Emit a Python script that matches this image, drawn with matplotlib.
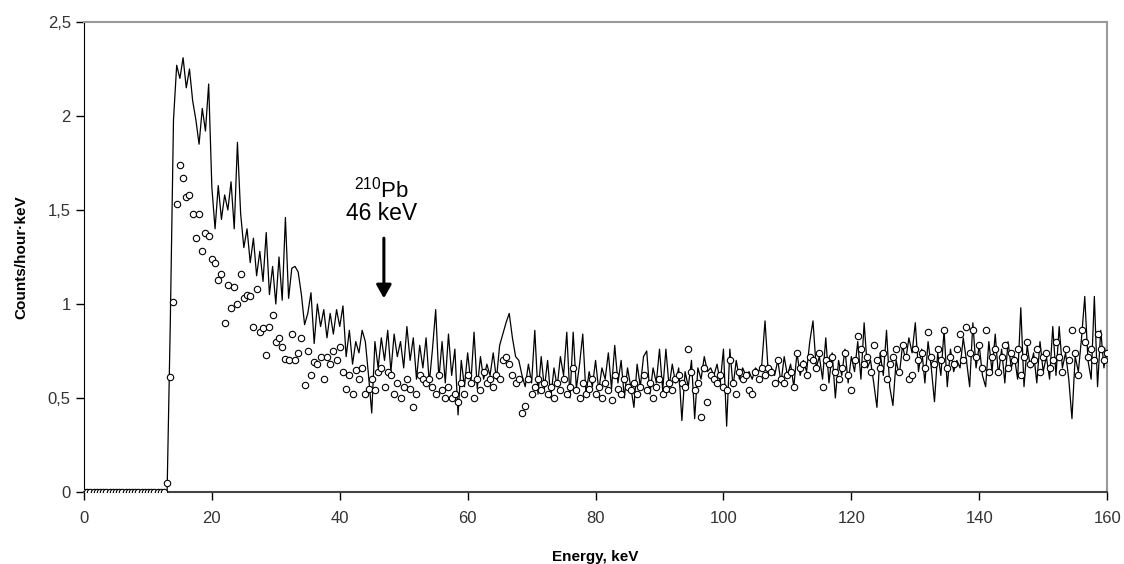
import numpy as np
import matplotlib
matplotlib.use("Agg")
import matplotlib.pyplot as plt
from matplotlib.ticker import FuncFormatter

plt.rcParams['font.family'] = ['Liberation Sans', 'DejaVu Sans']
plt.rcParams['mathtext.fontset'] = 'custom'
plt.rcParams['mathtext.rm'] = 'Liberation Sans'

# energia, passo 0.5 keV da 0 a 160
energia = np.arange(0, 160.01, 0.5)

# spettro (linea)
zeri_linea = [0.0, 0.0, 0.0, 0.0, 0.0, 0.0, 0.0, 0.0, 0.0, 0.0,
              0.0, 0.0, 0.0, 0.0, 0.0, 0.0, 0.0, 0.0, 0.0, 0.0,
              0.0, 0.0, 0.0, 0.0, 0.0, 0.0, 0.0]
linea = [0.90, 1.98, 2.27, 2.20, 2.31, 2.15, 2.25, 2.08, 1.98, 1.85,
         2.04, 1.92, 2.17, 1.62, 1.40, 1.63, 1.45, 1.58, 1.50, 1.65,
         1.40, 1.86, 1.48, 1.30, 1.40, 1.22, 1.35, 1.15, 1.28, 1.12,
         1.38, 1.05, 1.20, 1.00, 1.25, 1.02, 1.46, 1.03, 1.19, 1.20,
         1.17, 1.05, 0.89, 0.95, 1.06, 0.79, 1.00, 0.88, 0.97, 0.82,
         0.95, 0.84, 0.97, 0.88, 0.99, 0.72, 0.86, 0.68, 0.80, 0.74,
         0.86, 0.80, 0.62, 0.42, 0.80, 0.66, 0.82, 0.70, 0.86, 0.64,
         0.84, 0.72, 0.80, 0.66, 0.88, 0.70, 0.82, 0.60, 0.78, 0.66,
         0.82, 0.58, 0.76, 0.97, 0.60, 0.80, 0.58, 0.84, 0.62, 0.76,
         0.41, 0.70, 0.56, 0.74, 0.58, 0.85, 0.55, 0.72, 0.60, 0.68,
         0.62, 0.74, 0.60, 0.78, 0.84, 0.90, 0.95, 0.82, 0.72, 0.70,
         0.62, 0.56, 0.68, 0.58, 0.86, 0.52, 0.72, 0.55, 0.70, 0.50,
         0.66, 0.56, 0.72, 0.62, 0.85, 0.50, 0.85, 0.55, 0.68, 0.84,
         0.52, 0.64, 0.56, 0.70, 0.54, 0.66, 0.60, 0.74, 0.55, 0.78,
         0.58, 0.70, 0.50, 0.66, 0.56, 0.45, 0.68, 0.56, 0.72, 0.75,
         0.52, 0.66, 0.58, 0.76, 0.54, 0.76, 0.56, 0.68, 0.58, 0.66,
         0.38, 0.64, 0.56, 0.70, 0.39, 0.66, 0.60, 0.72, 0.64, 0.66,
         0.62, 0.68, 0.58, 0.76, 0.35, 0.76, 0.56, 0.70, 0.60, 0.66,
         0.62, 0.64, 0.60, 0.66, 0.64, 0.68, 0.91, 0.64, 0.66, 0.62,
         0.70, 0.58, 0.72, 0.62, 0.68, 0.56, 0.74, 0.62, 0.70, 0.64,
         0.80, 0.91, 0.66, 0.72, 0.60, 0.82, 0.58, 0.74, 0.50, 0.70,
         0.62, 0.76, 0.58, 0.72, 0.64, 0.80, 0.60, 0.90, 0.66, 0.70,
         0.58, 0.45, 0.74, 0.62, 0.86, 0.56, 0.46, 0.70, 0.62, 0.78,
         0.70, 0.82, 0.74, 0.90, 0.64, 0.76, 0.58, 0.80, 0.66, 0.48,
         0.74, 0.62, 0.86, 0.56, 0.76, 0.64, 0.70, 0.66, 0.82, 0.70,
         0.56, 0.90, 0.66, 0.78, 0.62, 0.56, 0.80, 0.64, 0.84, 0.62,
         0.76, 0.58, 0.80, 0.66, 0.72, 0.60, 0.98, 0.56, 0.78, 0.66,
         0.74, 0.58, 0.80, 0.64, 0.72, 0.60, 0.88, 0.62, 0.88, 0.66,
         0.74, 0.60, 0.39, 0.72, 0.64, 0.82, 1.04, 0.70, 0.60, 1.04,
         0.56, 0.86, 0.66, 0.80]

# seconda serie (cerchi)
zeri_cerchi = [0.0, 0.0, 0.0, 0.0, 0.0, 0.0, 0.0, 0.0, 0.0, 0.0,
               0.0, 0.0, 0.0, 0.0, 0.0, 0.0, 0.0, 0.0, 0.0, 0.0,
               0.0, 0.0, 0.0, 0.0, 0.0, 0.0, 0.05]
cerchi = [0.61, 1.01, 1.53, 1.74, 1.67, 1.57, 1.58, 1.48, 1.35, 1.48,
          1.28, 1.38, 1.36, 1.24, 1.22, 1.13, 1.16, 0.90, 1.10, 0.98,
          1.09, 1.00, 1.16, 1.03, 1.05, 1.04, 0.88, 1.08, 0.85, 0.87,
          0.73, 0.88, 0.94, 0.80, 0.82, 0.77, 0.71, 0.70, 0.84, 0.70,
          0.74, 0.82, 0.57, 0.75, 0.62, 0.69, 0.68, 0.72, 0.60, 0.72,
          0.68, 0.75, 0.70, 0.77, 0.64, 0.55, 0.62, 0.52, 0.65, 0.60,
          0.66, 0.52, 0.55, 0.60, 0.54, 0.64, 0.66, 0.56, 0.64, 0.62,
          0.52, 0.58, 0.50, 0.56, 0.60, 0.55, 0.45, 0.52, 0.62, 0.60,
          0.58, 0.60, 0.56, 0.52, 0.62, 0.54, 0.50, 0.56, 0.50, 0.52,
          0.48, 0.58, 0.52, 0.62, 0.58, 0.50, 0.60, 0.54, 0.64, 0.58,
          0.60, 0.56, 0.62, 0.60, 0.70, 0.72, 0.68, 0.62, 0.58, 0.60,
          0.42, 0.46, 0.60, 0.52, 0.56, 0.60, 0.54, 0.58, 0.52, 0.56,
          0.50, 0.58, 0.54, 0.60, 0.52, 0.56, 0.66, 0.54, 0.50, 0.58,
          0.52, 0.55, 0.60, 0.52, 0.56, 0.50, 0.58, 0.54, 0.49, 0.62,
          0.55, 0.52, 0.60, 0.56, 0.54, 0.58, 0.52, 0.56, 0.62, 0.54,
          0.58, 0.50, 0.56, 0.60, 0.52, 0.55, 0.58, 0.54, 0.60, 0.62,
          0.58, 0.56, 0.76, 0.64, 0.54, 0.58, 0.40, 0.66, 0.48, 0.62,
          0.60, 0.58, 0.62, 0.56, 0.54, 0.70, 0.58, 0.52, 0.64, 0.60,
          0.62, 0.54, 0.52, 0.64, 0.60, 0.66, 0.62, 0.66, 0.64, 0.58,
          0.70, 0.60, 0.58, 0.62, 0.64, 0.56, 0.74, 0.66, 0.68, 0.62,
          0.72, 0.70, 0.66, 0.74, 0.56, 0.70, 0.68, 0.72, 0.64, 0.60,
          0.66, 0.74, 0.62, 0.54, 0.70, 0.83, 0.76, 0.68, 0.72, 0.64,
          0.78, 0.70, 0.66, 0.74, 0.60, 0.68, 0.72, 0.76, 0.64, 0.78,
          0.72, 0.60, 0.62, 0.76, 0.70, 0.74, 0.66, 0.85, 0.72, 0.68,
          0.76, 0.70, 0.86, 0.66, 0.72, 0.68, 0.76, 0.84, 0.70, 0.88,
          0.74, 0.86, 0.72, 0.78, 0.66, 0.86, 0.64, 0.72, 0.76, 0.64,
          0.72, 0.78, 0.66, 0.74, 0.70, 0.76, 0.62, 0.72, 0.80, 0.68,
          0.70, 0.76, 0.64, 0.72, 0.74, 0.66, 0.70, 0.80, 0.72, 0.64,
          0.76, 0.70, 0.86, 0.74, 0.62, 0.86, 0.80, 0.72, 0.76, 0.70,
          0.84, 0.76, 0.70, 0.74]

y_linea = np.array(zeri_linea + linea)
y_cerchi = np.array(zeri_cerchi + cerchi)
assert len(y_linea) == len(energia), (len(y_linea), len(energia))
assert len(y_cerchi) == len(energia), (len(y_cerchi), len(energia))

fig = plt.figure(figsize=(11.24, 5.64), dpi=100)
ax = fig.add_axes([0.0747, 0.1277, 0.9103, 0.8333])

ax.plot(energia, y_linea, color="black", linewidth=0.9, zorder=2)
ax.plot(energia, y_cerchi, linestyle="none", marker="o", markersize=4.6,
        markerfacecolor="white", markeredgecolor="black", markeredgewidth=0.8, zorder=3)

# freccia 210Pb
ax.annotate("", xy=(46.9, 1.03), xytext=(46.9, 1.35),
            arrowprops=dict(arrowstyle="-|>,head_length=0.8,head_width=0.45",
                            color="black", lw=2.2, shrinkA=0, shrinkB=0))
ax.text(46.5, 1.61, r"$^{210}$Pb", ha="center", va="center", fontsize=16)
ax.text(46.5, 1.48, "46 keV", ha="center", va="center", fontsize=16.5)

ax.set_xlim(0, 160)
ax.set_ylim(0, 2.5)
ax.set_xticks(np.arange(0, 161, 20))
ax.set_yticks([0, 0.5, 1, 1.5, 2, 2.5])
ax.yaxis.set_major_formatter(FuncFormatter(lambda v, p: ("%g" % v).replace(".", ",")))
ax.tick_params(direction="out", length=6, width=1, labelsize=12, labelcolor="#333333")
ax.tick_params(axis="x", pad=8)

for s in ["top", "right"]:
    ax.spines[s].set_color("#999999")
    ax.spines[s].set_linewidth(1.5)
ax.spines["left"].set_color("black")
ax.spines["bottom"].set_color("#444444")
ax.spines["bottom"].set_linewidth(1.5)

ax.set_xlabel("Energy, keV", fontsize=11, fontweight="bold", labelpad=17)
ax.set_ylabel("Counts/hour·keV", fontsize=11, fontweight="bold", labelpad=14)

plt.savefig("out.png", dpi=100)
